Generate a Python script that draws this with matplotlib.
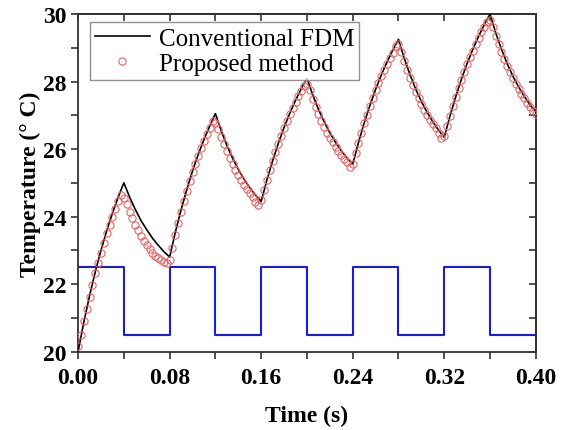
import numpy as np
import matplotlib
matplotlib.use('Agg')
import matplotlib.pyplot as plt

plt.rcParams['font.family'] = ['Liberation Serif', 'DejaVu Serif']
plt.rcParams['mathtext.fontset'] = 'stix'

# heater drive: on/off every 40 ms
heat_times = [0.00, 0.04, 0.08, 0.12, 0.16, 0.20, 0.24, 0.28, 0.32, 0.36, 0.40]
heat_levels = [22.5, 20.5, 22.5, 20.5, 22.5, 20.5, 22.5, 20.5, 22.5, 20.5, 20.5]

# conventional FDM, sampled every 5 ms
fdm_step = 0.005
fdm_temp = [
    20.00, 20.87, 21.65, 22.36, 23.00, 23.58, 24.10, 24.57, 25.00,
    24.58, 24.21, 23.88, 23.61, 23.36, 23.15, 22.96, 22.80,
    23.54, 24.20, 24.80, 25.35, 25.84, 26.28, 26.68, 27.05,
    26.55, 26.11, 25.73, 25.40, 25.11, 24.86, 24.64, 24.45,
    25.08, 25.65, 26.17, 26.64, 27.06, 27.44, 27.79, 28.10,
    27.61, 27.18, 26.81, 26.48, 26.20, 25.95, 25.74, 25.55,
    26.19, 26.77, 27.29, 27.77, 28.20, 28.58, 28.93, 29.25,
    28.69, 28.21, 27.78, 27.41, 27.09, 26.81, 26.56, 26.35,
    26.98, 27.55, 28.07, 28.54, 28.96, 29.34, 29.69, 30.00,
    29.44, 28.96, 28.53, 28.16, 27.84, 27.56, 27.31, 27.10,
]

# proposed method, sampled every 2.5 ms
prop_step = 0.0025
prop_temp = [
    20.15, 20.50, 20.90, 21.27, 21.63, 21.98, 22.32, 22.63,
    22.93, 23.22, 23.50, 23.76, 24.00, 24.22, 24.45, 24.65,
    24.55, 24.38, 24.15, 23.95, 23.76, 23.59, 23.43, 23.29,
    23.16, 23.04, 22.93, 22.84, 22.76, 22.70, 22.65, 22.62,
    22.72, 23.08, 23.46, 23.82, 24.15, 24.46, 24.76, 25.04,
    25.31, 25.56, 25.80, 26.03, 26.24, 26.45, 26.63, 26.82,
    26.78, 26.60, 26.36, 26.14, 25.93, 25.74, 25.56, 25.39,
    25.23, 25.08, 24.94, 24.81, 24.69, 24.57, 24.44, 24.34,
    24.50, 24.78, 25.08, 25.37, 25.64, 25.91, 26.16, 26.40,
    26.62, 26.83, 27.03, 27.22, 27.40, 27.57, 27.73, 27.87,
    27.92, 27.75, 27.48, 27.25, 27.03, 26.84, 26.66, 26.49,
    26.34, 26.20, 26.06, 25.94, 25.82, 25.71, 25.61, 25.47,
    25.56, 25.88, 26.18, 26.48, 26.76, 27.02, 27.27, 27.51,
    27.74, 27.96, 28.16, 28.35, 28.53, 28.70, 28.86, 29.05,
    29.12, 28.88, 28.60, 28.35, 28.12, 27.90, 27.70, 27.51,
    27.33, 27.16, 27.01, 26.87, 26.73, 26.61, 26.49, 26.33,
    26.40, 26.68, 26.98, 27.27, 27.54, 27.80, 28.05, 28.28,
    28.51, 28.72, 28.92, 29.11, 29.29, 29.46, 29.62, 29.78,
    29.82, 29.62, 29.36, 29.12, 28.89, 28.67, 28.47, 28.28,
    28.10, 27.93, 27.78, 27.63, 27.50, 27.37, 27.25, 27.14,
    27.04,
]

fdm_t = np.arange(len(fdm_temp)) * fdm_step
prop_t = np.arange(len(prop_temp)) * prop_step

fig = plt.figure(figsize=(5.7, 4.31), dpi=100)
ax = fig.add_axes([0.137, 0.182, 0.803, 0.783])

ax.step(heat_times, heat_levels, where='post', color='#1a1ae0', linewidth=1.5,
        zorder=2)
ax.plot(fdm_t, fdm_temp, color='black', linewidth=1.2, label='Conventional FDM',
        zorder=3)
ax.plot(prop_t, prop_temp, linestyle='none', marker='o', markersize=5.2,
        markerfacecolor='none', markeredgecolor='#e46464', markeredgewidth=0.8,
        label='Proposed method', zorder=4)

ax.set_xlim(0, 0.40)
ax.set_ylim(20, 30)
ax.set_xticks(np.arange(0, 0.401, 0.08))
ax.set_xticks(np.arange(0, 0.401, 0.04), minor=True)
ax.set_yticks(range(20, 31, 2))
ax.set_yticks(range(20, 31, 1), minor=True)
ax.xaxis.set_major_formatter(plt.FormatStrFormatter('%.2f'))

ax.tick_params(which='both', direction='out', length=5, width=1.2,
               color='#333333', labelsize=17)
ax.tick_params(axis='x', which='major', pad=6)
ax.tick_params(axis='y', which='major', pad=3)
for lab in ax.get_xticklabels() + ax.get_yticklabels():
    lab.set_fontweight('bold')

# mirrored ticks on top and right, pointing inward
top = ax.secondary_xaxis('top')
top.set_xticks(np.arange(0, 0.401, 0.04), labels=[])
top.tick_params(direction='in', length=5, width=1.2, color='#333333')
right = ax.secondary_yaxis('right')
right.set_yticks(range(20, 31, 1), labels=[])
right.tick_params(direction='in', length=5, width=1.2, color='#333333')

for a in (ax, top, right):
    for sp in a.spines.values():
        sp.set_linewidth(1.3)
        sp.set_color('#333333')

ax.set_xlabel('Time (s)', fontsize=17, fontweight='bold', labelpad=12)
ax.set_ylabel('Temperature (° C)', fontsize=17, fontweight='bold', labelpad=2)

leg = ax.legend(loc='upper left', bbox_to_anchor=(0.026, 0.976), fontsize=18,
                frameon=True, fancybox=False, handlelength=2.2,
                handletextpad=0.35, borderpad=0.2, labelspacing=0.1,
                borderaxespad=0)
leg.get_frame().set_edgecolor('#777777')
leg.get_frame().set_linewidth(1.0)

fig.savefig('out.png', dpi=100)
